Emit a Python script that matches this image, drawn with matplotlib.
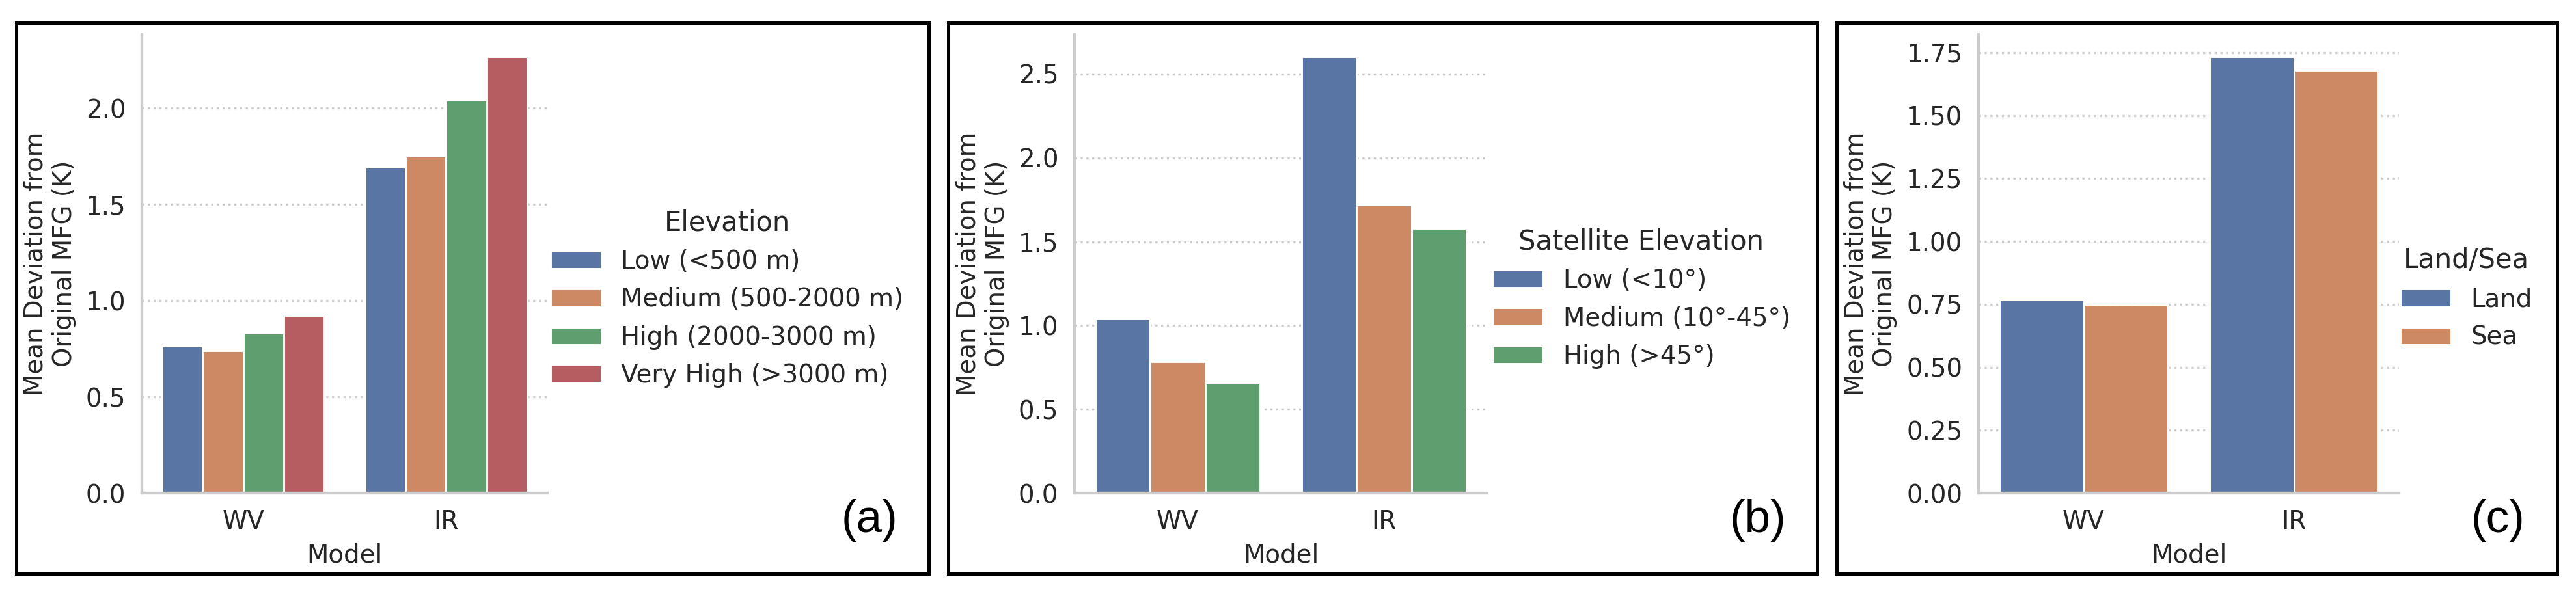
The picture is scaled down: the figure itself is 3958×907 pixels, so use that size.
import numpy as np
import matplotlib.pyplot as plt
import seaborn as sns
from matplotlib.patches import Rectangle

# model categories on the x axis
models = ['WV', 'IR']

# (a) terrain elevation
elev_title = 'Elevation'
elev_labels = ['Low (<500 m)', 'Medium (500-2000 m)', 'High (2000-3000 m)', 'Very High (>3000 m)']
elev_wv = [0.763, 0.739, 0.830, 0.924]
elev_ir = [1.693, 1.752, 2.043, 2.270]

# (b) satellite elevation
sat_title = 'Satellite Elevation'
sat_labels = ['Low (<10°)', 'Medium (10°-45°)', 'High (>45°)']
sat_wv = [1.040, 0.785, 0.654]
sat_ir = [2.606, 1.720, 1.579]

# (c) land / sea
ls_title = 'Land/Sea'
ls_labels = ['Land', 'Sea']
ls_wv = [0.767, 0.749]
ls_ir = [1.735, 1.679]

panel_tags = ['(a)', '(b)', '(c)']

plt.rcParams.update({
    'font.family': 'DejaVu Sans',
    'text.color': '.15',
    'axes.labelcolor': '.15',
    'xtick.color': '.15',
    'ytick.color': '.15',
    'axes.edgecolor': '.8',
    'axes.linewidth': 1.05,
    'xtick.major.size': 0,
    'ytick.major.size': 0,
    'xtick.major.pad': 5.9,
    'ytick.major.pad': 5.9,
    'axes.labelpad': 3.4,
})

W, H = 3958, 907
DPI = 300
fig = plt.figure(figsize=(W / DPI, H / DPI), dpi=DPI)


def fx(px):
    return px / W


def fy(py):
    return 1 - py / H


pal = [sns.desaturate(c, 0.75) for c in sns.color_palette('deep')]

# layout in pixels: frame (x0, x1), axes (x0, x1), legend left edge
layout = [
    ((25, 1427), (218, 841), 846),
    ((1457, 2792), (1651, 2285), 2293),
    ((2822, 3929), (3040, 3686), 3688),
]
ax_top, ax_bot = 53, 758
fr_top, fr_bot = 35, 882

panels = [
    (elev_title, elev_labels, elev_wv, elev_ir),
    (sat_title, sat_labels, sat_wv, sat_ir),
    (ls_title, ls_labels, ls_wv, ls_ir),
]

for k, (title, labels, wv, ir) in enumerate(panels):
    (f0, f1), (a0, a1), leg_x = layout[k]
    ax = fig.add_axes([fx(a0), fy(ax_bot), fx(a1) - fx(a0), fy(ax_top) - fy(ax_bot)])
    n = len(labels)
    w = 0.8 / n
    xs = np.arange(len(models))
    for i, lab in enumerate(labels):
        ax.bar(xs - 0.4 + w * (i + 0.5), [wv[i], ir[i]], width=w,
               color=pal[i], edgecolor='white', linewidth=0.7, label=lab, zorder=2)
    ax.set_xlim(-0.5, len(models) - 0.5)
    ax.set_xticks(xs)
    ax.set_xticklabels(models)
    ax.tick_params(labelsize=9.3)
    ax.set_xlabel('Model', fontsize=9.3)
    ax.set_ylabel('Mean Deviation from\nOriginal MFG (K)', fontsize=9.3)
    ax.grid(axis='y', linestyle=':', color='.8', linewidth=0.8, zorder=0)
    ax.set_axisbelow(True)
    for s in ['top', 'right']:
        ax.spines[s].set_visible(False)

    handles, labs = ax.get_legend_handles_labels()
    fig.legend(handles, labs, title=title, loc='center left',
               bbox_to_anchor=(fx(leg_x), fy((fr_top + fr_bot) / 2)),
               frameon=False, borderpad=0, borderaxespad=0,
               fontsize=9.3, title_fontsize=10, labelspacing=0.52)

    # panel frame and tag
    fig.add_artist(Rectangle((fx(f0), fy(fr_bot)), fx(f1) - fx(f0), fy(fr_top) - fy(fr_bot),
                             transform=fig.transFigure, fill=False,
                             edgecolor='black', linewidth=1.2))
    fig.text(fx(f1 - 91), fy(800), panel_tags[k], ha='center', va='center',
             fontsize=17, family='Liberation Sans', color='black')

fig.savefig('out.png', dpi=DPI)
